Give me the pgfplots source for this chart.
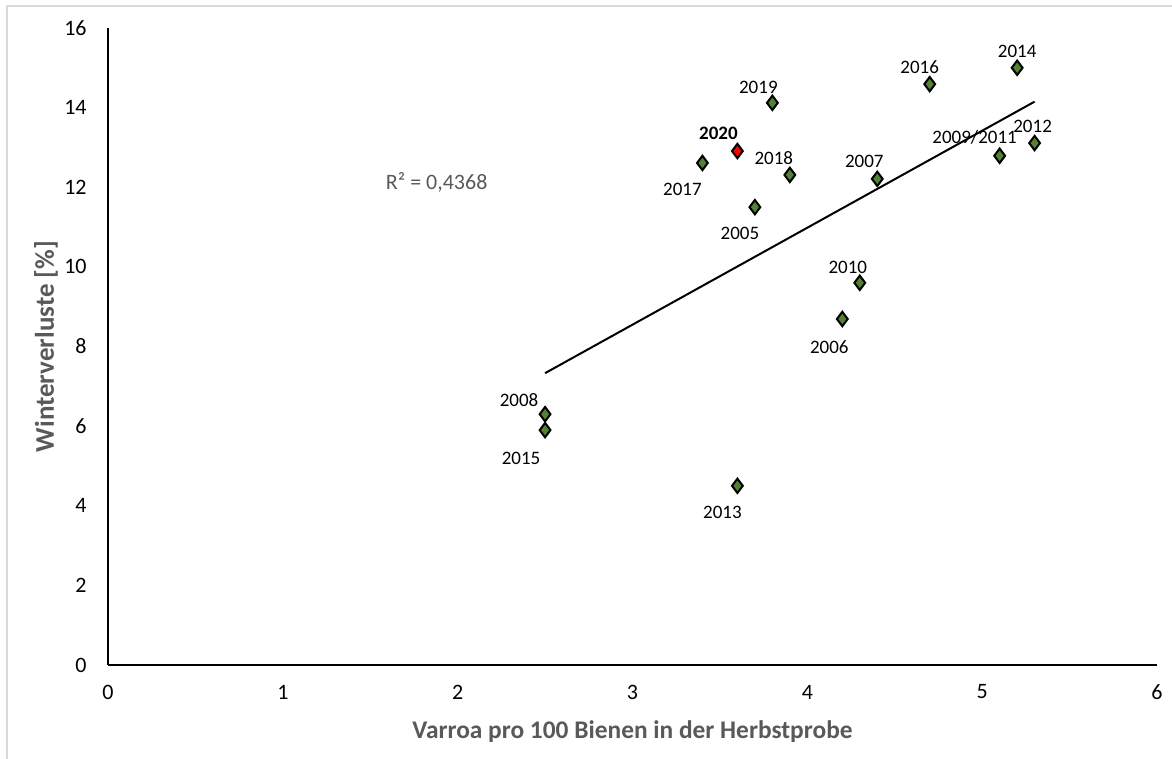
\documentclass[border=0pt]{standalone}
\usepackage{pgfplots}
\pgfplotsset{compat=1.18}
\usepackage{fontspec}
\setmainfont{Carlito}
\definecolor{markgreen}{HTML}{548235}
\definecolor{labelgray}{HTML}{595959}
\definecolor{framegray}{HTML}{D9D9D9}
\begin{document}
\begin{tikzpicture}[x=0.5pt,y=0.5pt]
\path[use as bounding box] (0,0) rectangle (1172,759);
\draw[framegray, line width=0.6pt] (7,0) -- (7,753) -- (1172,753);
\begin{axis}[
    at={(54pt,47pt)}, anchor=south west,
    scale only axis,
    width=524.5pt, height=318.5pt,
    xmin=0, xmax=6, ymin=0, ymax=16,
    xtick={0,1,...,6}, ytick={0,2,...,16},
    axis lines=left,
    axis line style={black, line width=0.6pt, -},
    major tick length=0pt,
    /pgf/number format/assume math mode=true,
    tick label style={font=\fontsize{11}{13}\selectfont, black},
    xticklabel style={anchor=center, yshift=-13.5pt},
    yticklabel style={anchor=east, inner sep=0pt, xshift=-10.5pt},
    every axis x label/.style={at={(axis description cs:0.5,0)}, anchor=center, yshift=-33.5pt},
    every axis y label/.style={at={(axis description cs:0,0.5)}, anchor=center, rotate=90, yshift=31pt},
    label style={font=\fontsize{12.7}{15}\selectfont\bfseries, text=labelgray},
    ylabel style={font=\fontsize{13.5}{16}\selectfont\bfseries},
    xlabel={Varroa pro 100 Bienen in der Herbstprobe},
    ylabel={Winterverluste [\%]},
    clip=false,
]
% trendline
\addplot[black, line width=1pt] coordinates {(2.5,7.33) (5.3,14.15)};
% years
\addplot[only marks, mark=diamond*, mark size=3.6pt,
    mark options={fill=markgreen, draw=black, line width=1pt}] coordinates {
    (2.5,6.30) (2.5,5.90) (3.6,4.50) (3.4,12.61) (3.8,14.12)
    (3.9,12.31) (3.7,11.50) (4.4,12.21) (4.3,9.60) (4.2,8.69)
    (4.7,14.59) (5.2,15.00) (5.1,12.79) (5.3,13.11)};
% 2020
\addplot[only marks, mark=diamond*, mark size=3.6pt,
    mark options={fill=red, draw=black, line width=1pt}] coordinates {(3.6,12.91)};
\begin{scope}[every node/.style={font=\fontsize{9.5}{11}\selectfont, text=black, inner sep=0pt}]
\node[xshift=-13pt, yshift=7pt] at (axis cs:2.5,6.30) {2008};
\node[xshift=-12pt, yshift=-14pt] at (axis cs:2.5,5.90) {2015};
\node[xshift=-7.5pt, yshift=-13.5pt] at (axis cs:3.6,4.50) {2013};
\node[xshift=-10pt, yshift=-13pt] at (axis cs:3.4,12.61) {2017};
\node[xshift=-9.5pt, yshift=9pt, font=\fontsize{9.5}{11}\selectfont\bfseries] at (axis cs:3.6,12.91) {2020};
\node[xshift=-7pt, yshift=7.5pt] at (axis cs:3.8,14.12) {2019};
\node[xshift=-8pt, yshift=8.5pt] at (axis cs:3.9,12.31) {2018};
\node[xshift=-7.5pt, yshift=-13pt] at (axis cs:3.7,11.50) {2005};
\node[xshift=-6.5pt, yshift=8.5pt] at (axis cs:4.4,12.21) {2007};
\node[xshift=-6pt, yshift=7.5pt] at (axis cs:4.3,9.60) {2010};
\node[xshift=-6.5pt, yshift=-14pt] at (axis cs:4.2,8.69) {2006};
\node[xshift=-5pt, yshift=8.5pt] at (axis cs:4.7,14.59) {2016};
\node[xshift=0pt, yshift=8pt] at (axis cs:5.2,15.00) {2014};
\node[xshift=-12.5pt, yshift=9pt] at (axis cs:5.1,12.79) {2009/2011};
\node[xshift=-1pt, yshift=8.5pt] at (axis cs:5.3,13.11) {2012};
\end{scope}
\node[font=\fontsize{11}{13}\selectfont, text=labelgray] at (axis cs:1.88,12.11) {R² = 0,4368};
\end{axis}
\end{tikzpicture}
\end{document}
